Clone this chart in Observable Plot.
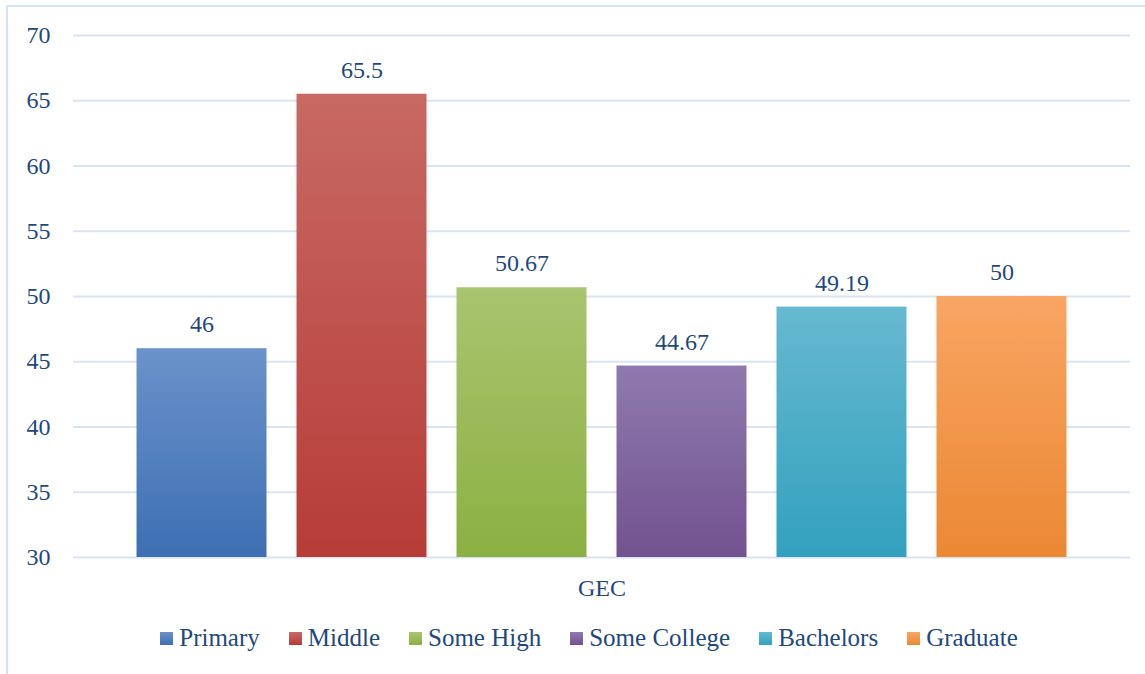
<!DOCTYPE html>
<html>
<head>
<meta charset="utf-8">
<script src="https://cdn.jsdelivr.net/npm/d3@7"></script>
<script src="https://cdn.jsdelivr.net/npm/@observablehq/plot@0.6"></script>
<style>
  html, body { margin: 0; padding: 0; background: #fff; }
  body { width: 1145px; height: 674px; position: relative; overflow: hidden; font-family: "Liberation Serif", "DejaVu Serif", serif; }
  #frame { position: absolute; left: 6px; top: 5px; width: 1150px; height: 680px; border: 2px solid #d6e3f4; box-sizing: border-box; pointer-events: none; }
  #chart { position: absolute; left: 0; top: 0; }
  #legend { position: absolute; left: 0; top: 624px; width: 1145px; display: flex; justify-content: center; gap: 29px; padding-left: 33px; box-sizing: border-box; color: #1f497d; font-size: 25px; font-family: "Liberation Serif", "DejaVu Serif", serif; }
  #legend .item { display: flex; align-items: center; gap: 6px; }
  #legend .sw { width: 13px; height: 13px; display: inline-block; }
</style>
</head>
<body>
<div id="chart"></div>
<div id="legend"></div>
<div id="frame"></div>
<script>
const categories = ["Primary", "Middle", "Some High", "Some College", "Bachelors", "Graduate"];
const values = [46, 65.5, 50.67, 44.67, 49.19, 50];
const valueLabels = ["46", "65.5", "50.67", "44.67", "49.19", "50"];
const topColors = ["#6b92ca", "#c86964", "#a8c56f", "#8f7aaf", "#66b9d0", "#f9a564"];
const bottomColors = ["#3d6fb3", "#b73c38", "#8cb042", "#72528f", "#33a1be", "#eb8832"];
const yTicks = [30, 35, 40, 45, 50, 55, 60, 65, 70];
const groupLabel = ["GEC"];

const data = categories.map((c, i) => ({
  category: c,
  value: values[i],
  label: valueLabels[i],
  fill: `url(#grad-${i})`
}));

const textColor = "#1f497d";
const fontStack = "'Liberation Serif', 'DejaVu Serif', serif";

const chart = Plot.plot({
  width: 1145,
  height: 605,
  marginLeft: 73,
  marginRight: 15,
  marginTop: 35,
  marginBottom: 48,
  style: { fontFamily: fontStack, fontSize: "24px", color: textColor, background: "transparent" },
  x: { domain: categories, axis: null, paddingInner: 0.1875, paddingOuter: 0.397, round: false },
  y: { domain: [30, 70], ticks: yTicks, label: null },
  color: { type: "identity" },
  marks: [
    Plot.gridY(yTicks, { stroke: "#d9e4f3", strokeOpacity: 1, strokeWidth: 2 }),
    Plot.axisY(yTicks, { tickSize: 0, tickPadding: 23, fontSize: 24, fontFamily: fontStack, fill: textColor, label: null }),
    Plot.barY(data, { x: "category", y1: 30, y2: "value", fill: "fill" }),
    Plot.text(data, { x: "category", y: "value", text: "label", dy: -24, lineAnchor: "middle", fontSize: 24, fontFamily: fontStack, fill: textColor }),
    Plot.text(groupLabel, { text: d => d, frameAnchor: "bottom", dy: 31, lineAnchor: "middle", fontSize: 24, fontFamily: fontStack, fill: textColor })
  ]
});

const defs = d3.select(chart).insert("defs", ":first-child");
categories.forEach((c, i) => {
  const g = defs.append("linearGradient").attr("id", `grad-${i}`)
    .attr("x1", 0).attr("y1", 0).attr("x2", 0).attr("y2", 1);
  g.append("stop").attr("offset", "0%").attr("stop-color", topColors[i]);
  g.append("stop").attr("offset", "100%").attr("stop-color", bottomColors[i]);
});

document.getElementById("chart").appendChild(chart);

const legend = document.getElementById("legend");
categories.forEach((c, i) => {
  const item = document.createElement("div");
  item.className = "item";
  const sw = document.createElement("span");
  sw.className = "sw";
  sw.style.background = `linear-gradient(${topColors[i]}, ${bottomColors[i]})`;
  const t = document.createElement("span");
  t.textContent = c;
  item.appendChild(sw);
  item.appendChild(t);
  legend.appendChild(item);
});
</script>
</body>
</html>
